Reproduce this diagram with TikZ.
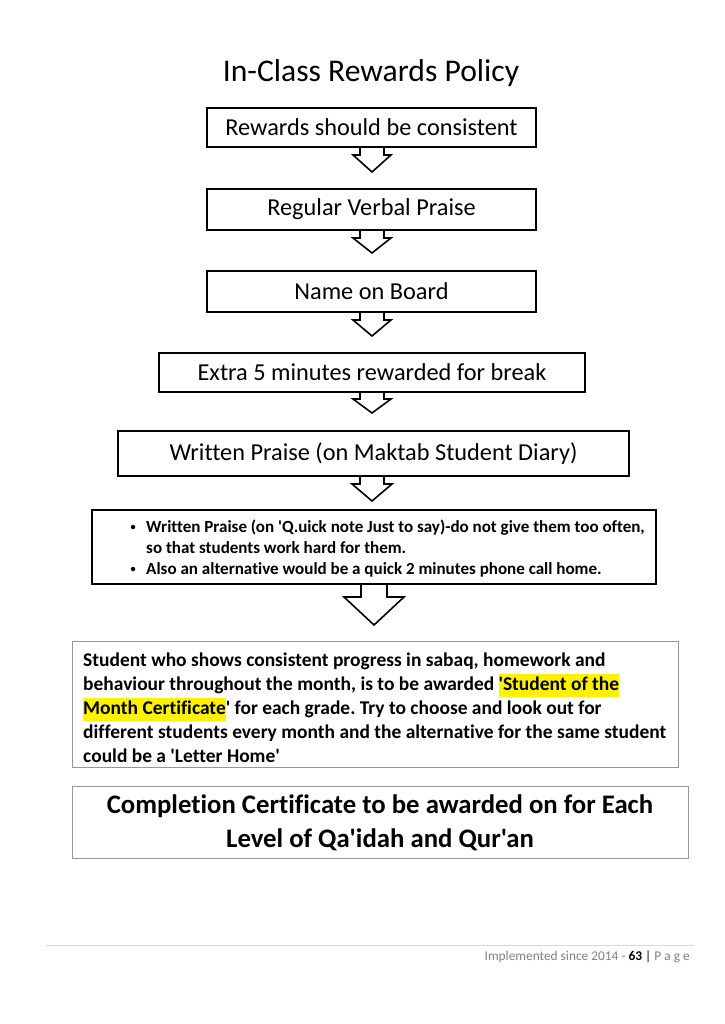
\documentclass[tikz,border=0pt]{standalone}
\usepackage{fontspec}
\setmainfont{Carlito}[Ligatures={TeXOff,NoCommon}]
\usetikzlibrary{calc}
\frenchspacing
\def\px{0.8224pt}
\definecolor{footgray}{RGB}{128,128,128}
\definecolor{boxgray}{RGB}{150,150,150}
\newcommand{\hlt}[1]{{\setlength{\fboxsep}{0pt}\colorbox{yellow}{\strut #1}}}
\newcommand{\blockarrow}[5]{% node, shaft half-width, head half-width, shaft length, total length
  \draw[arrowline] ($(#1.south)+(-#2,0)$) -- ++(0,#4) -- ++(-#3+#2,0) -- ($(#1.south)+(0,#5)$) -- ($(#1.south)+(#3,#4)$) -- ++(-#3+#2,0) -- ($(#1.south)+(#2,0)$);}
\tikzset{
  stepbox/.style={draw, line width=1.3pt, inner sep=0pt, align=center, font=\fontsize{20}{24}\selectfont},
  arrowline/.style={line width=1.3pt, line join=miter},
  graybox/.style={draw=boxgray, line width=0.8pt, inner sep=0pt},
  bodytext/.style={anchor=base west, inner sep=0pt},
  bulletmark/.style={circle, fill=black, inner sep=0pt, minimum size={4.5*\px}},
}
\begin{document}
\begin{tikzpicture}[x=0.8224pt, y=-0.8224pt]
\useasboundingbox (0,0) rectangle (724,1024);
\fill[white] (0,0) rectangle (724,1024);

\node[inner sep=0pt, font=\fontsize{26}{30}\selectfont] (title) at (371,73) {In-Class Rewards Policy};

\node[stepbox, minimum width={329*\px}, minimum height={39*\px}] (b1) at (371.5,127.5) {Rewards should be consistent};
\node[stepbox, minimum width={329*\px}, minimum height={41*\px}] (b2) at (371.5,209.5) {Regular Verbal Praise};
\node[stepbox, minimum width={329*\px}, minimum height={41*\px}] (b3) at (371.5,291.5) {Name on Board};
\node[stepbox, minimum width={426*\px}, minimum height={39*\px}] (b4) at (372,372.5) {Extra 5 minutes rewarded for break};
\node[stepbox, minimum width={511*\px}, minimum height={45*\px}] (b5) at (373.5,453.5) {Written Praise (on Maktab Student Diary)};
\node[draw, line width=1.3pt, inner sep=0pt, minimum width={564*\px}, minimum height={74*\px}] (b6) at (374,547) {};

\coordinate (a1) at (372,147);
\coordinate (a2) at (372,230);
\coordinate (a3) at (372,312);
\coordinate (a4) at (372,392);
\coordinate (a5) at (372,476);
\coordinate (a6) at (374,584);
\blockarrow{a1}{12}{19}{8}{25}
\blockarrow{a2}{12}{19}{8}{23}
\blockarrow{a3}{12}{19}{8}{24}
\blockarrow{a4}{12}{19}{7}{21}
\blockarrow{a5}{12}{20}{8}{25}
\blockarrow{a6}{13}{30}{13}{41}

% bullet box text
\node[bulletmark] (bu1) at (133,527) {};
\node[bulletmark] (bu2) at (133,569) {};
\begin{scope}[every node/.style={bodytext, font=\fontsize{14}{17}\bfseries\selectfont}]
\node (l1) at (146,532) {Written Praise (on 'Q.uick note Just to say)-do not give them too often,};
\node (l2) at (146,553) {so that students work hard for them.};
\node (l3) at (146,574) {Also an alternative would be a quick 2 minutes phone call home.};
\end{scope}

% student box
\node[graybox, minimum width={606*\px}, minimum height={126*\px}] (b7) at (375,704) {};
\begin{scope}[every node/.style={bodytext, font=\fontsize{16}{19}\bfseries\selectfont}]
\node (s1) at (83,666) {Student who shows consistent progress in sabaq, homework and};
\node (s2) at (83,690) {behaviour throughout the month, is to be awarded \hlt{'Student of the}};
\node (s3) at (83,714) {\hlt{Month Certificate}' for each grade. Try to choose and look out for};
\node (s4) at (83,738) {different students every month and the alternative for the same student};
\node (s5) at (83,762) {could be a 'Letter Home'};
\end{scope}

% completion box
\node[graybox, minimum width={616*\px}, minimum height={72*\px}] (b8) at (380,822) {};
\node[inner sep=0pt, align=center, font=\fontsize{22}{28}\bfseries\selectfont] (c1) at (380,823) {Completion Certificate to be awarded on for Each\\Level of Qa'idah and Qur'an};

% footer
\coordinate (fl) at (46,945);
\coordinate (fr) at (694,945);
\draw[draw={rgb,255:red,217;green,217;blue,217}, line width=0.8pt] (fl) -- (fr);
\node[anchor=base east, inner sep=0pt, font=\fontsize{11}{13}\selectfont] (foot) at (690,960) {\textcolor{footgray}{Implemented since 2014 - }\textbf{63} | \textcolor{footgray}{P a g e}};
\end{tikzpicture}
\end{document}
